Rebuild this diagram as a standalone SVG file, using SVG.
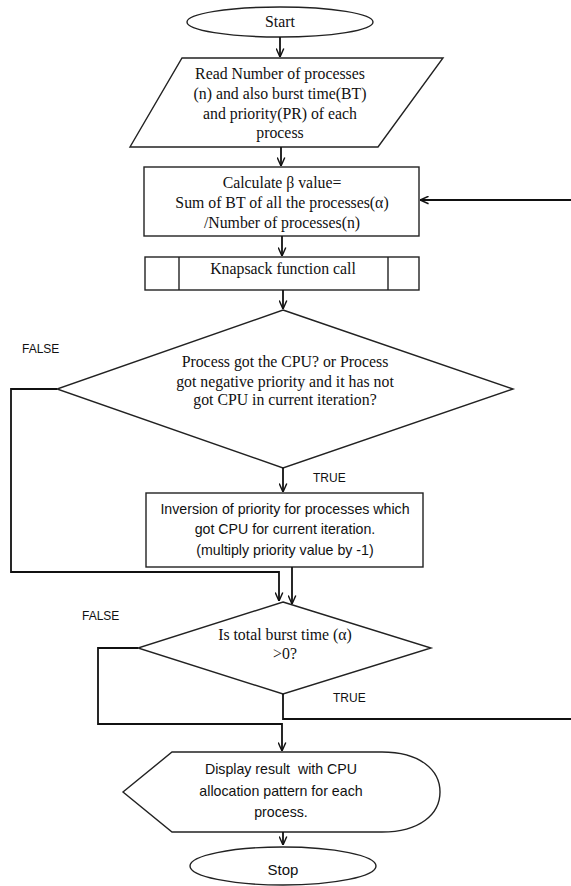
<svg xmlns="http://www.w3.org/2000/svg" width="571" height="886" viewBox="0 0 571 886">
<style>
.shape{fill:#fff;stroke:#222;stroke-width:1.4}
.conn{fill:none;stroke:#111;stroke-width:1.8}
.serif{font-family:"Liberation Serif","Times New Roman",serif;font-size:15.8px;fill:#111;text-anchor:middle}
.sans{font-family:"Liberation Sans",Arial,sans-serif;font-size:14.2px;fill:#111;text-anchor:middle}
.lbl{font-family:"Liberation Sans",Arial,sans-serif;font-size:12px;fill:#111}
</style>
<defs>
<marker id="arr" viewBox="0 0 10 10" refX="9.5" refY="5" markerWidth="9" markerHeight="9" orient="auto" markerUnits="userSpaceOnUse">
<path d="M0,0.8 L9.5,5 L0,9.2" fill="none" stroke="#111" stroke-width="1.6"/>
</marker>
</defs>
<rect width="571" height="886" fill="#fff"/>

<g id="start">
<ellipse class="shape" cx="280" cy="22" rx="93" ry="15"/>
<text class="serif" x="280" y="27">Start</text>
</g>

<g id="read">
<polygon class="shape" points="182,58 443,58 378,147 130,147"/>
<text class="serif" x="280" y="79">Read Number of processes</text>
<text class="serif" x="280" y="99">(n) and also burst time(BT)</text>
<text class="serif" x="280" y="119">and priority(PR) of each</text>
<text class="serif" x="280" y="138">process</text>
</g>

<g id="calc">
<rect class="shape" x="144" y="167" width="275" height="69"/>
<text class="serif" x="282" y="188">Calculate β value=</text>
<text class="serif" x="282" y="208">Sum of BT of all the processes(α)</text>
<text class="serif" x="282" y="228">/Number of processes(n)</text>
</g>

<g id="knapsack">
<rect class="shape" x="145" y="257" width="274" height="33"/>
<line class="shape" x1="179" y1="257" x2="179" y2="290"/>
<line class="shape" x1="388" y1="257" x2="388" y2="290"/>
<text class="serif" x="283" y="274">Knapsack function call</text>
</g>

<g id="decision1">
<polygon class="shape" points="283,310 513,389 283,468 57,389"/>
<text class="serif" x="285" y="367">Process got the CPU?  or Process</text>
<text class="serif" x="285" y="387">got negative priority and it has  not</text>
<text class="serif" x="285" y="405">got CPU in current iteration?</text>
</g>

<g id="inversion">
<rect class="shape" x="146" y="493" width="277" height="74"/>
<text class="sans" x="285" y="514">Inversion of priority for processes which</text>
<text class="sans" x="285" y="534">got CPU for current iteration.</text>
<text class="sans" x="285" y="555">(multiply priority value by -1)</text>
</g>

<g id="decision2">
<polygon class="shape" points="283,602 431,648 283,694 138,648"/>
<text class="serif" x="285" y="640">Is total  burst time (α)</text>
<text class="serif" x="285" y="659">&gt;0?</text>
</g>

<g id="display">
<path class="shape" d="M172,752 H382 C420,752 440,770 440,792 C440,814 420,832 382,832 H172 L123,792 Z"/>
<text class="sans" x="281" y="774" xml:space="preserve">Display result  with CPU</text>
<text class="sans" x="281" y="796">allocation pattern for each</text>
<text class="sans" x="281" y="817">process.</text>
</g>

<g id="stop">
<ellipse class="shape" cx="283" cy="866" rx="93" ry="19"/>
<text class="sans" x="283" y="875" style="font-size:15px">Stop</text>
</g>

<g id="labels">
<text class="lbl" x="22" y="353">FALSE</text>
<text class="lbl" x="313" y="482">TRUE</text>
<text class="lbl" x="82" y="620">FALSE</text>
<text class="lbl" x="333" y="702">TRUE</text>
</g>

<g id="connectors">
<path class="conn" d="M280,37 V57" marker-end="url(#arr)"/>
<path class="conn" d="M281,147 V166" marker-end="url(#arr)"/>
<path class="conn" d="M282,236 V256" marker-end="url(#arr)"/>
<path class="conn" d="M283,290 V309" marker-end="url(#arr)"/>
<path class="conn" d="M283,468 V492" marker-end="url(#arr)"/>
<path class="conn" d="M57,389 H11 V572 H279 V601" marker-end="url(#arr)"/>
<path class="conn" d="M292,567 V604" marker-end="url(#arr)"/>
<path class="conn" d="M138,648 H98 V724 H282 V751" marker-end="url(#arr)"/>
<path class="conn" d="M283,694 V719 H573 V200 H420" marker-end="url(#arr)"/>
<path class="conn" d="M283,832 V845" marker-end="url(#arr)"/>
</g>
</svg>
